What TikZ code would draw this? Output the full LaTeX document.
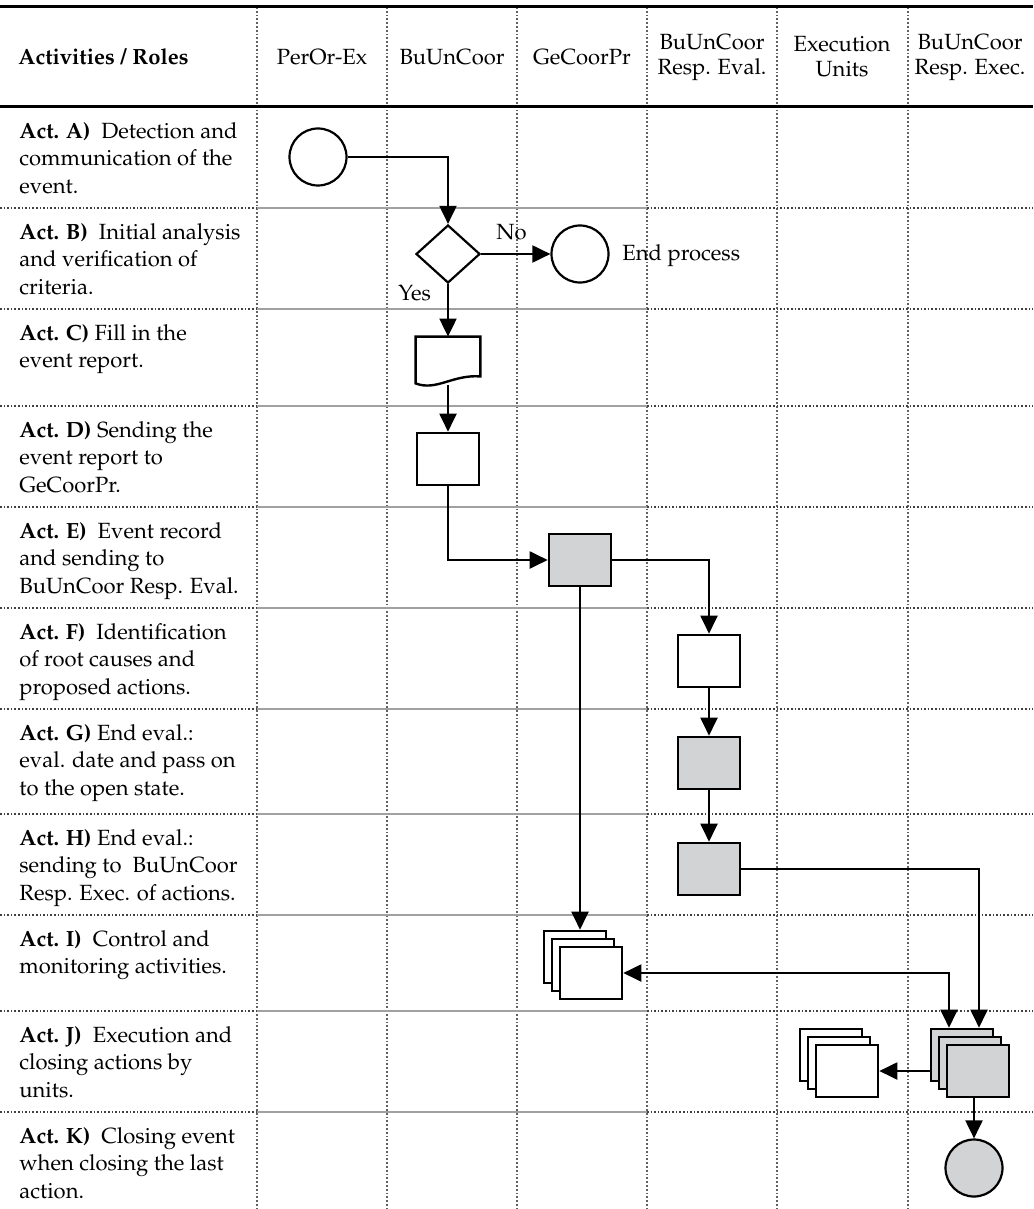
\documentclass[tikz,border=0pt]{standalone}
\usepackage[T1]{fontenc}
\usepackage{mathpazo}
\usetikzlibrary{arrows.meta,shapes.geometric}
\definecolor{boxgrey}{HTML}{D2D3D5}
\definecolor{gridgrey}{HTML}{8A8A8A}
\tikzset{
  flow/.style={line width=1pt, -{Triangle[length=9pt,width=8.5pt]}},
  twoway/.style={line width=1pt, {Triangle[length=9pt,width=8.5pt]}-{Triangle[length=9pt,width=8.5pt]}},
  actbox/.style={draw, line width=1.3pt, fill=white, minimum width=31pt, minimum height=26pt, inner sep=0pt},
  greybox/.style={actbox, fill=boxgrey},
  event/.style={draw, circle, line width=1.1pt, fill=white, minimum size=28.5pt, inner sep=0pt},
  acttext/.style={anchor=north west, align=left, inner sep=0pt, font=\fontsize{11}{13.75}\selectfont},
  rolehead/.style={align=center, inner sep=0pt, font=\fontsize{11}{12.5}\selectfont},
  lbl/.style={inner sep=0pt, font=\fontsize{11}{13}\selectfont},
  vsep/.style={gridgrey!70!black, densely dotted, line width=0.9pt},
  hsolid/.style={gridgrey!80, line width=0.9pt},
  hdot/.style={black!75, densely dotted, line width=0.8pt},
}
\begin{document}
\begin{tikzpicture}[x=0.5pt, y=-0.5pt]
  \useasboundingbox (0,0) rectangle (1033,1209);
  % table grid
  \foreach \x in {257,387,517,647,777,908}
    \draw[vsep] (\x,7) -- (\x,1209);
  \foreach \y in {208,309,406,507,608,709,814,915,1011,1112} {
    \draw[hdot] (0,\y) -- (257,\y);
    \draw[hsolid] (257,\y) -- (647,\y);
    \draw[hdot] (647,\y) -- (1033,\y);
  }
  \draw[line width=1.5pt] (0,7) -- (1033,7);
  \draw[line width=1.5pt] (0,107) -- (1033,107);

  % header
  \node[rolehead, anchor=west] (hAct) at (18,57) {\textbf{Activities / Roles}};
  \node[rolehead] (hPer) at (322,57) {PerOr-Ex};
  \node[rolehead] (hBuU) at (452,57) {BuUnCoor};
  \node[rolehead] (hGeC) at (582,57) {GeCoorPr};
  \node[rolehead] (hEval) at (712,57) {BuUnCoor\\Resp. Eval.};
  \node[rolehead] (hUnits) at (842,57) {Execution\\Units};
  \node[rolehead] (hExec) at (970,57) {BuUnCoor\\Resp. Exec.};

  % activities
  \node[acttext] (actA) at (19,122) {\textbf{Act. A)}\ \ Detection and\\communication of the\\event.};
  \node[acttext] (actB) at (19,223) {\textbf{Act. B)}\ \ Initial analysis\\and verification of\\criteria.};
  \node[acttext] (actC) at (19,324) {\textbf{Act. C)} Fill in the\\event report.};
  \node[acttext] (actD) at (19,421) {\textbf{Act. D)} Sending the\\event report to\\GeCoorPr.};
  \node[acttext] (actE) at (19,522) {\textbf{Act. E)}\ \ Event record\\and sending to\\BuUnCoor Resp. Eval.};
  \node[acttext] (actF) at (19,623) {\textbf{Act. F)}\ \ Identification\\of root causes and\\proposed actions.};
  \node[acttext] (actG) at (19,724) {\textbf{Act. G)} End eval.:\\eval. date and pass on\\to the open state.};
  \node[acttext] (actH) at (19,829) {\textbf{Act. H)} End eval.:\\sending to\ \ BuUnCoor\\Resp. Exec. of actions.};
  \node[acttext] (actI) at (19,930) {\textbf{Act. I)}\ \ Control and\\monitoring activities.};
  \node[acttext] (actJ) at (19,1026) {\textbf{Act. J)}\ \ Execution and\\closing actions by\\units.};
  \node[acttext] (actK) at (19,1127) {\textbf{Act. K)}\ \ Closing event\\when closing the last\\action.};

  % flow shapes
  \node[event] (start) at (318,157) {};
  \node[diamond, draw, line width=1.1pt, fill=white, minimum width=32pt, minimum height=29pt, inner sep=0pt] (crit) at (448,254) {};
  \node[event] (stop) at (580,254) {};
  \node[lbl, anchor=base west] (stopText) at (622,261) {End process};
  \node[minimum width=32pt, minimum height=24pt, inner sep=0pt] (report) at (448,361) {};
  \draw[line width=1.2pt, fill=white] ([yshift=1pt]report.south west) -- (report.north west)
    -- (report.north east) -- ([yshift=4.5pt]report.south east)
    .. controls ([xshift=-14pt,yshift=5.5pt]report.south east) and ([xshift=-22pt,yshift=-3pt]report.south east)
    .. ([yshift=1pt]report.south west) -- cycle;
  \node[actbox] (send) at (448,459) {};
  \node[greybox] (record) at (580,560) {};
  \node[actbox] (causes) at (709,661) {};
  \node[greybox] (endeval) at (709,763) {};
  \node[greybox] (toexec) at (709,869) {};
  \node[actbox] (ctrlB) at (575,957) {};
  \node[actbox] (ctrlM) at (583,965) {};
  \node[actbox] (ctrlF) at (591,973) {};
  \node[actbox] (unitB) at (831,1055) {};
  \node[actbox] (unitM) at (839,1063) {};
  \node[actbox] (unitF) at (847,1071) {};
  \node[greybox] (execB) at (962,1055) {};
  \node[greybox] (execM) at (970,1063) {};
  \node[greybox] (execF) at (978,1071) {};
  \node[event, fill=boxgrey] (close) at (974,1168) {};

  % connectors
  \draw[flow] (start.east) -| (crit.north);
  \draw[flow] (crit.east) -- node[lbl, pos=0.44, above=6.5pt] {No} (stop.west);
  \draw[flow] (crit.south) -- node[lbl, pos=0.17, left=8pt] {Yes} (report.north);
  \draw[flow] (report.south) -- (send.north);
  \draw[flow] (send.south) |- (record.west);
  \draw[flow] (record.east) -| (causes.north);
  \draw[flow] (record.south) -- (record.south |- ctrlB.north);
  \draw[flow] (causes.south) -- (endeval.north);
  \draw[flow] (endeval.south) -- (toexec.north);
  \draw[flow] (toexec.east) -| ([xshift=8.5pt]execB.north);
  \draw[twoway] (ctrlF.east) -| ([xshift=-6.5pt]execB.north);
  \draw[flow] (execB.west |- execF) -- (unitF.east);
  \draw[flow] (close |- execF.south) -- (close.north);
\end{tikzpicture}
\end{document}
